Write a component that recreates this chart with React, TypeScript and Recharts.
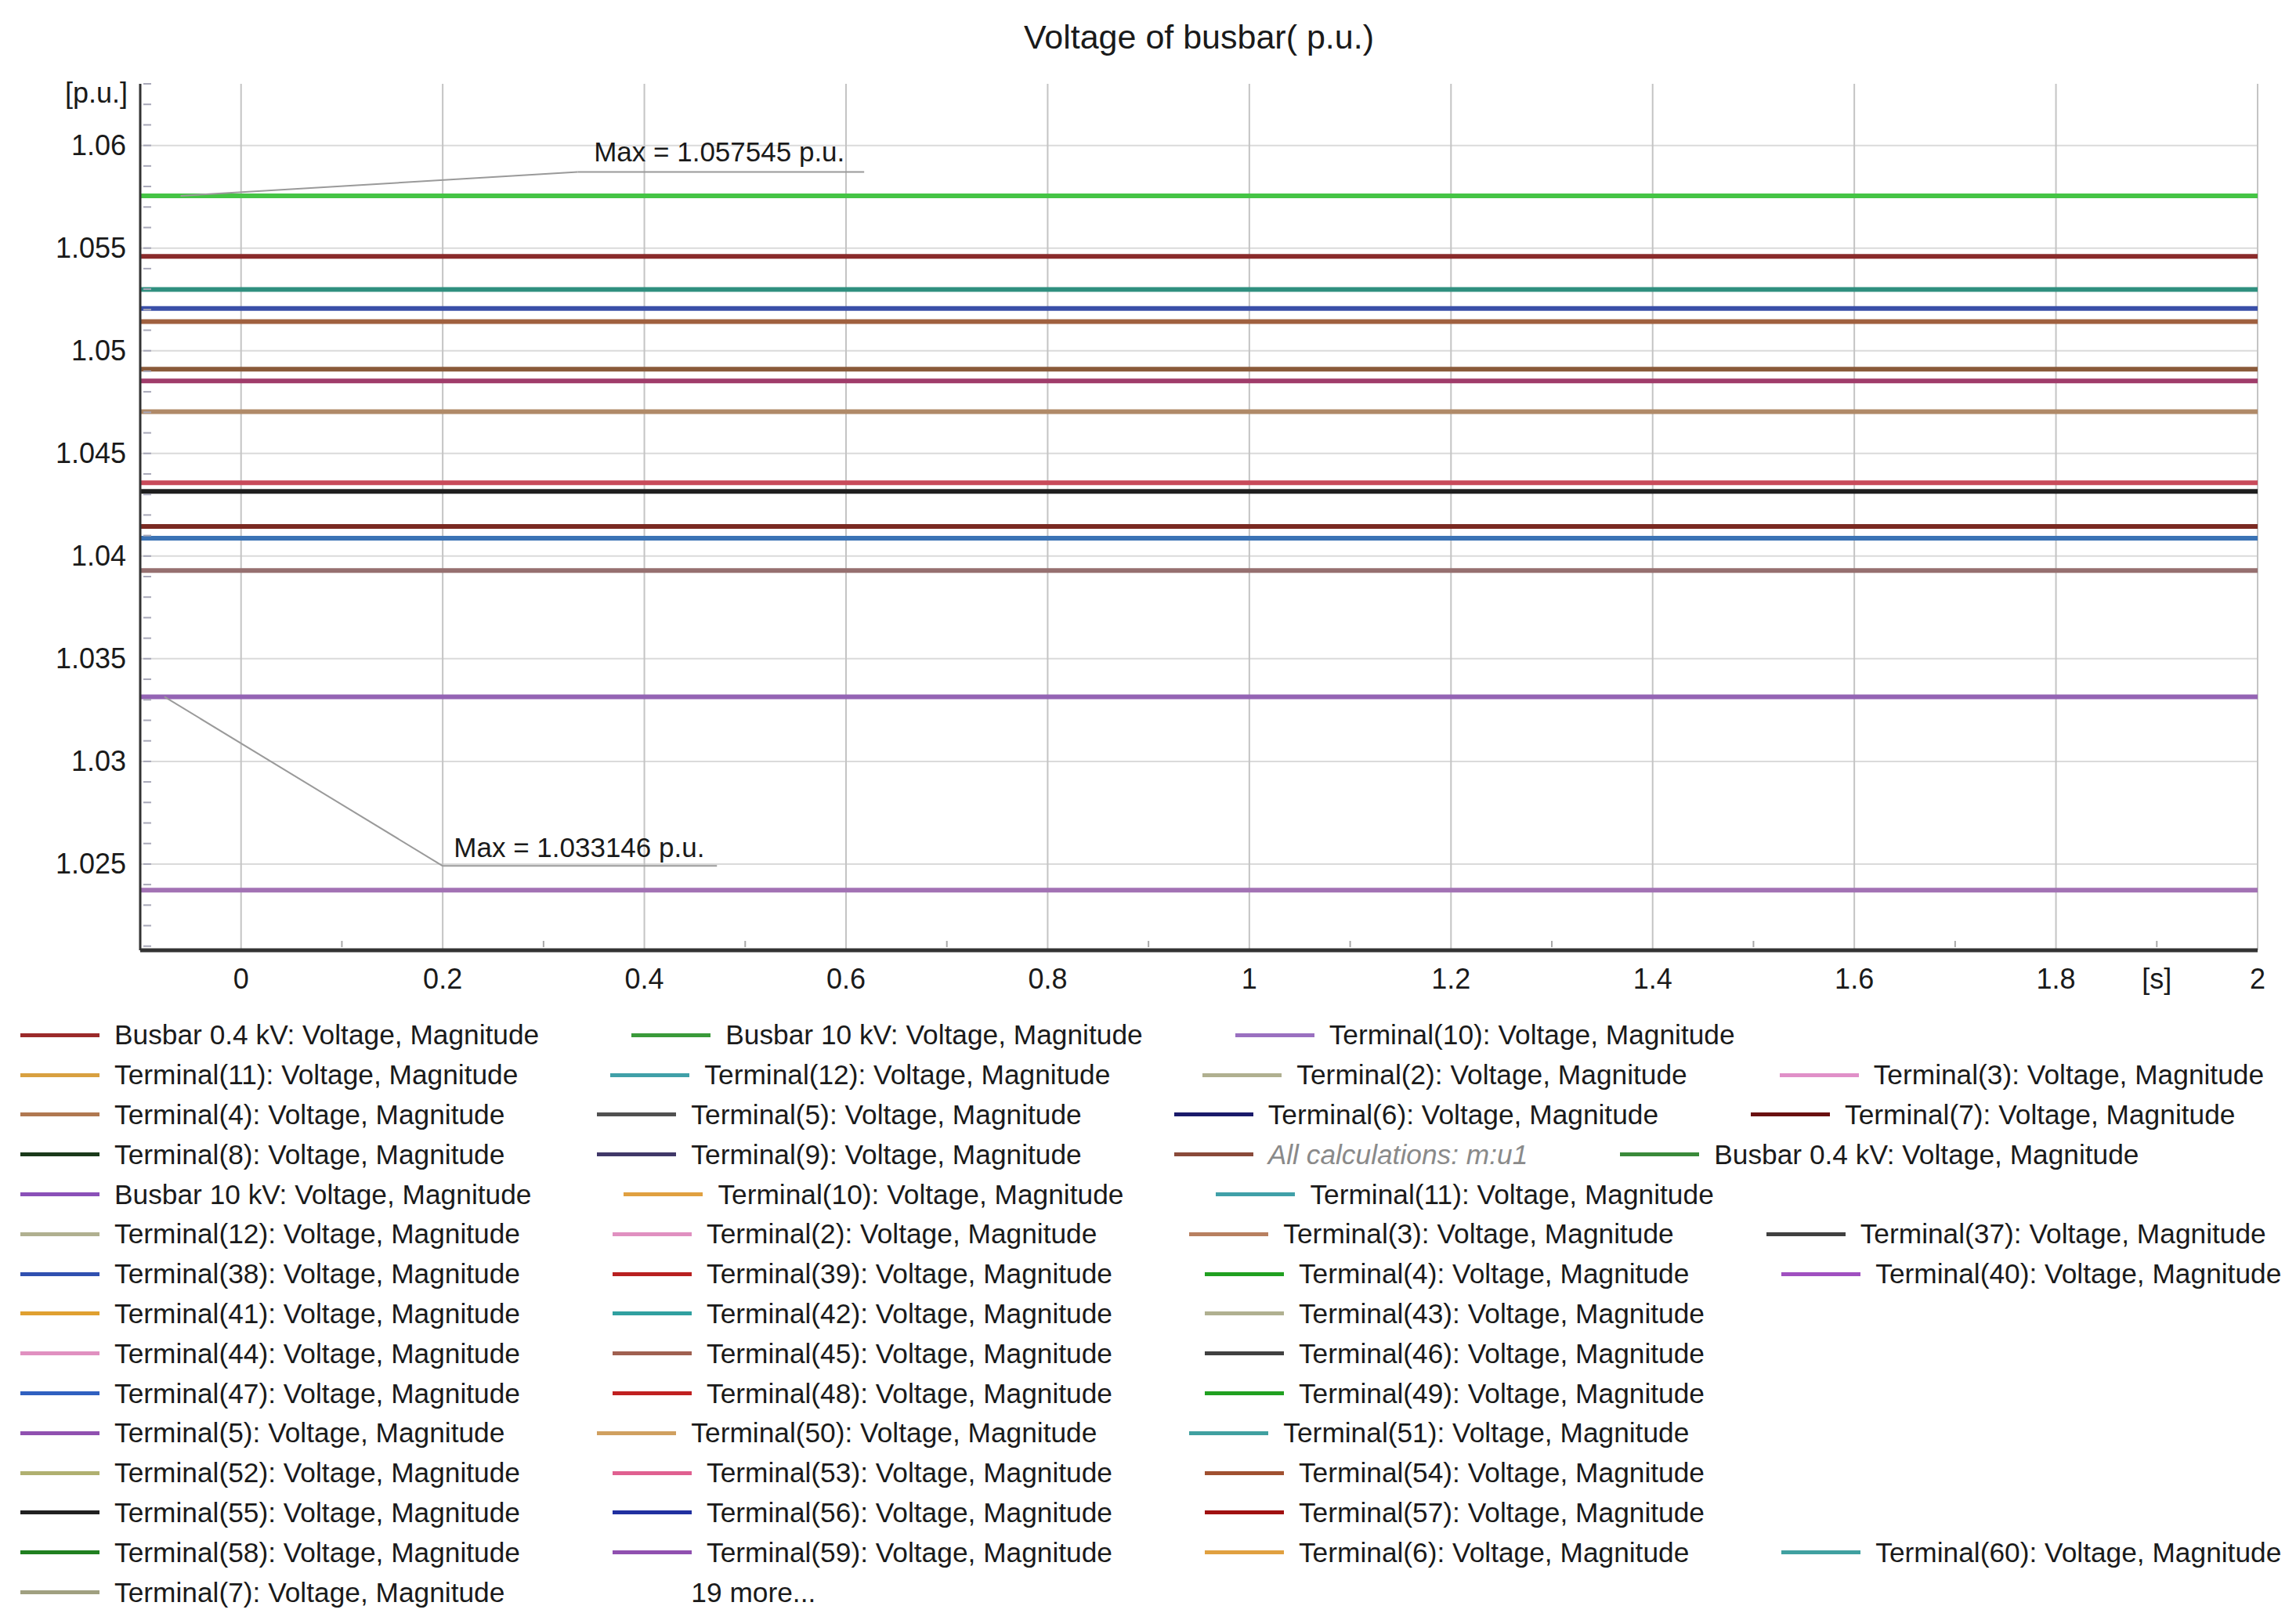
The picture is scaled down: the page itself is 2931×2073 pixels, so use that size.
import React from "react"
import { LineChart, Line, XAxis, YAxis, ReferenceLine, ReferenceDot } from "recharts"

// simulation time [s]
const timeSteps = [-0.1, 2]

// flat voltage levels (p.u.)
const seriesNames = [
  "Busbar 10 kV",
  "Busbar 0.4 kV",
  "Terminal(12)",
  "Terminal(38)",
  "Terminal(4)",
  "Terminal(45)",
  "Terminal(53)",
  "Terminal(50)",
  "Terminal(39)",
  "Terminal(55)",
  "Terminal(7)",
  "Terminal(47)",
  "Terminal(54)",
  "Terminal(10)",
  "Terminal(59)",
]
const seriesLevels = [
  1.057545, 1.054596, 1.05298, 1.05206, 1.05142, 1.0491, 1.04853, 1.04703,
  1.04357, 1.04315, 1.04144, 1.04087, 1.0393, 1.033146, 1.02373,
]
const seriesColors = [
  "#45c445", "#8a2b2b", "#2f8f7f", "#3a4fa8", "#a0603f", "#8a5a3a", "#a03c6a", "#b08a68",
  "#c84a5a", "#1e1e1e", "#7a2a22", "#3b73b5", "#967070", "#9464b4", "#a272b4",
]

const xMajorTicks = [0, 0.2, 0.4, 0.6, 0.8, 1, 1.2, 1.4, 1.6, 1.8, 2]
const xTickLabels = ["0", "0.2", "0.4", "0.6", "0.8", "1", "1.2", "1.4", "1.6", "1.8", "2"]
const xMinorTicks = [0.1, 0.3, 0.5, 0.7, 0.9, 1.1, 1.3, 1.5, 1.7, 1.9]
const yMajorTicks = [1.025, 1.03, 1.035, 1.04, 1.045, 1.05, 1.055, 1.06]
const yTickLabels = ["1.025", "1.03", "1.035", "1.04", "1.045", "1.05", "1.055", "1.06"]
const yMinorTicks = Array.from({ length: 43 }, (_, i) => Math.round((1.021 + i * 0.001) * 1000) / 1000)

const maxNotes = [
  { text: "Max = 1.057545 p.u.", from: [-0.06, 1.057545], knee: [0.334, 1.05871], end: [0.618, 1.05871], at: [0.35, 1.0597] },
  { text: "Max = 1.033146 p.u.", from: [-0.076, 1.033146], knee: [0.2, 1.02491], end: [0.472, 1.02491], at: [0.211, 1.02583] },
]

const legendRows = [
  ["Busbar 0.4 kV: Voltage, Magnitude", "Busbar 10 kV: Voltage, Magnitude", "Terminal(10): Voltage, Magnitude"],
  ["Terminal(11): Voltage, Magnitude", "Terminal(12): Voltage, Magnitude", "Terminal(2): Voltage, Magnitude", "Terminal(3): Voltage, Magnitude"],
  ["Terminal(4): Voltage, Magnitude", "Terminal(5): Voltage, Magnitude", "Terminal(6): Voltage, Magnitude", "Terminal(7): Voltage, Magnitude"],
  ["Terminal(8): Voltage, Magnitude", "Terminal(9): Voltage, Magnitude", "All calculations: m:u1", "Busbar 0.4 kV: Voltage, Magnitude"],
  ["Busbar 10 kV: Voltage, Magnitude", "Terminal(10): Voltage, Magnitude", "Terminal(11): Voltage, Magnitude"],
  ["Terminal(12): Voltage, Magnitude", "Terminal(2): Voltage, Magnitude", "Terminal(3): Voltage, Magnitude", "Terminal(37): Voltage, Magnitude"],
  ["Terminal(38): Voltage, Magnitude", "Terminal(39): Voltage, Magnitude", "Terminal(4): Voltage, Magnitude", "Terminal(40): Voltage, Magnitude"],
  ["Terminal(41): Voltage, Magnitude", "Terminal(42): Voltage, Magnitude", "Terminal(43): Voltage, Magnitude"],
  ["Terminal(44): Voltage, Magnitude", "Terminal(45): Voltage, Magnitude", "Terminal(46): Voltage, Magnitude"],
  ["Terminal(47): Voltage, Magnitude", "Terminal(48): Voltage, Magnitude", "Terminal(49): Voltage, Magnitude"],
  ["Terminal(5): Voltage, Magnitude", "Terminal(50): Voltage, Magnitude", "Terminal(51): Voltage, Magnitude"],
  ["Terminal(52): Voltage, Magnitude", "Terminal(53): Voltage, Magnitude", "Terminal(54): Voltage, Magnitude"],
  ["Terminal(55): Voltage, Magnitude", "Terminal(56): Voltage, Magnitude", "Terminal(57): Voltage, Magnitude"],
  ["Terminal(58): Voltage, Magnitude", "Terminal(59): Voltage, Magnitude", "Terminal(6): Voltage, Magnitude", "Terminal(60): Voltage, Magnitude"],
  ["Terminal(7): Voltage, Magnitude", "19 more..."],
]
const legendColors = [
  ["#9b2a2a", "#3a9a3a", "#9a70c0"],
  ["#d8a040", "#40a0a8", "#b0b090", "#e090c8"],
  ["#b07850", "#505050", "#1a1a6a", "#6a1010"],
  ["#1a3a1a", "#403868", "#8a4a3a", "#3a8a3a"],
  ["#8a50b8", "#e0a040", "#40a0a8"],
  ["#b0b090", "#e090c0", "#b88060", "#404040"],
  ["#3050b0", "#b82020", "#20a020", "#a050c0"],
  ["#e0a030", "#30a0a0", "#b0b090"],
  ["#e090c0", "#a06050", "#404040"],
  ["#3060c0", "#c02020", "#20a020"],
  ["#9050b0", "#d0a060", "#40a0a0"],
  ["#b0b070", "#e06090", "#a05030"],
  ["#202020", "#2030a0", "#a01010"],
  ["#208020", "#9050b0", "#e0a040", "#40a0a0"],
  ["#a0a080", "transparent"],
]

const FONT = "'Liberation Sans', Arial, sans-serif"

const chartData = timeSteps.map((t) => {
  const row: Record<string, number> = { t }
  seriesLevels.forEach((v, i) => {
    row["s" + i] = v
  })
  return row
})

function YTick({ x, y, payload }: any) {
  const v = payload.value
  const idx = yMajorTicks.findIndex((m) => Math.abs(m - v) < 1e-6)
  return (
    <g>
      <line x1={x + 4} x2={x + 14} y1={y} y2={y} stroke="#a8a8b8" strokeWidth={2} />
      {idx >= 0 && (
        <text x={x - 18} y={y} textAnchor="end" dominantBaseline="central" fontSize={36} fill="#1a1a1a" fontFamily={FONT}>
          {yTickLabels[idx]}
        </text>
      )}
    </g>
  )
}

function XTick({ x, y, payload }: any) {
  const v = payload.value
  const idx = xMajorTicks.findIndex((m) => Math.abs(m - v) < 1e-6)
  const isUnit = Math.abs(v - 1.9) < 1e-6
  return (
    <g>
      {idx < 0 && <line x1={x} x2={x} y1={y - 12} y2={y - 4} stroke="#a8a8a8" strokeWidth={2} />}
      {(idx >= 0 || isUnit) && (
        <text x={x} y={y + 36} textAnchor="middle" dominantBaseline="central" fontSize={36} fill="#1a1a1a" fontFamily={FONT}>
          {isUnit ? "[s]" : xTickLabels[idx]}
        </text>
      )}
    </g>
  )
}

function UnitLabel({ viewBox }: any) {
  return (
    <text x={viewBox.x + viewBox.width - 16} y={viewBox.y + 11} textAnchor="end" dominantBaseline="central" fontSize={36} fill="#1a1a1a" fontFamily={FONT}>
      [p.u.]
    </text>
  )
}

function NoteText(text: string) {
  return (props: any) => (
    <text x={props.cx} y={props.cy} dominantBaseline="central" fontSize={35} fill="#1a1a1a" fontFamily={FONT}>
      {text}
    </text>
  )
}

function Legend() {
  return (
    <div style={{ position: "absolute", left: 0, top: 1296, fontFamily: FONT, fontSize: 35.3, color: "#1a1a1a" }}>
      {legendRows.map((row, r) => (
        <div key={r} style={{ height: 50.8, display: "flex", alignItems: "center", paddingLeft: 26, columnGap: 118, whiteSpace: "nowrap" }}>
          {row.map((label, c) => (
            <div key={c} style={{ display: "flex", alignItems: "center" }}>
              <span style={{ display: "inline-block", width: 101, height: 5, marginRight: 19, background: legendColors[r][c] }} />
              <span style={label.startsWith("All") ? { fontStyle: "italic", color: "#8a8a8a" } : undefined}>{label}</span>
            </div>
          ))}
        </div>
      ))}
    </div>
  )
}

export default function App() {
  return (
    <div style={{ position: "absolute", left: 0, top: 0, width: 2931, height: 2073, background: "#fff", overflow: "hidden" }}>
      <div style={{ position: "absolute", left: 179, width: 2703, top: 22, textAlign: "center", fontFamily: FONT, fontSize: 43, color: "#1a1a1a", lineHeight: "50px" }}>
        Voltage of busbar( p.u.)
      </div>
      <LineChart width={2931} height={1300} data={chartData} margin={{ top: 107, right: 49, bottom: 0, left: 0 }}>
        <XAxis
          type="number"
          dataKey="t"
          domain={[-0.1, 2]}
          ticks={[...xMajorTicks, ...xMinorTicks].sort((a, b) => a - b)}
          interval={0}
          height={87}
          tickSize={0}
          tickMargin={0}
          tickLine={false}
          tick={<XTick />}
          axisLine={{ stroke: "#333", strokeWidth: 5 }}
          allowDataOverflow
        />
        <YAxis
          type="number"
          domain={[1.0208, 1.063]}
          ticks={yMinorTicks}
          interval={0}
          width={179}
          tickSize={0}
          tickMargin={0}
          tickLine={false}
          tick={<YTick />}
          axisLine={{ stroke: "#333", strokeWidth: 3 }}
          label={{ content: <UnitLabel /> }}
          allowDataOverflow
        />
        {yMajorTicks.map((v) => (
          <ReferenceLine key={"h" + v} y={v} stroke="#dadada" strokeWidth={2} />
        ))}
        {xMajorTicks.map((v) => (
          <ReferenceLine key={"v" + v} x={v} stroke="#c4c4c4" strokeWidth={2} />
        ))}
        {seriesNames.map((name, i) => (
          <Line
            key={name}
            name={name}
            dataKey={"s" + i}
            stroke={seriesColors[i]}
            strokeWidth={6}
            dot={false}
            activeDot={false}
            isAnimationActive={false}
          />
        ))}
        {maxNotes.map((n) => (
          <ReferenceLine
            key={n.text + "a"}
            segment={[{ x: n.from[0], y: n.from[1] }, { x: n.knee[0], y: n.knee[1] }]}
            stroke="#9a9a9a"
            strokeWidth={2}
          />
        ))}
        {maxNotes.map((n) => (
          <ReferenceLine
            key={n.text + "b"}
            segment={[{ x: n.knee[0], y: n.knee[1] }, { x: n.end[0], y: n.end[1] }]}
            stroke="#9a9a9a"
            strokeWidth={2}
          />
        ))}
        {maxNotes.map((n) => (
          <ReferenceDot key={n.text} x={n.at[0]} y={n.at[1]} r={0} shape={NoteText(n.text)} />
        ))}
      </LineChart>
      <Legend />
    </div>
  )
}
